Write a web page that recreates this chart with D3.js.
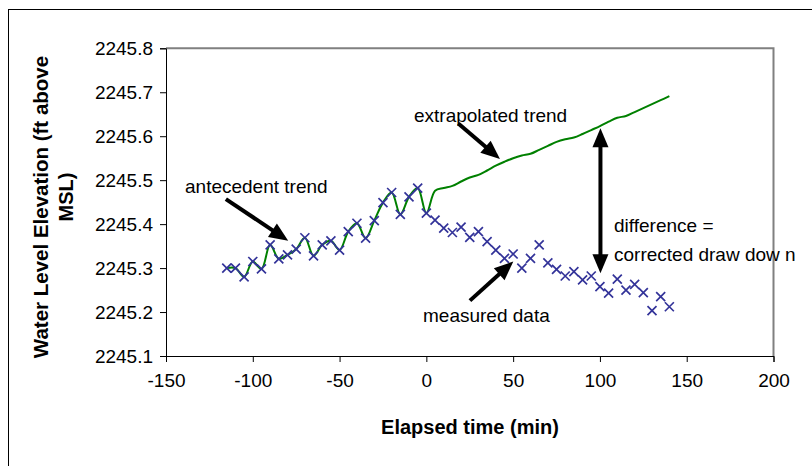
<!DOCTYPE html>
<html>
<head>
<meta charset="utf-8">
<script src="https://cdn.jsdelivr.net/npm/d3@7"></script>
<style>
  html, body { margin: 0; padding: 0; background: #ffffff; }
  svg { display: block; }
  text { font-family: "Liberation Sans", Arial, sans-serif; fill: #000; }
</style>
</head>
<body>
<svg id="chart" width="812" height="466"></svg>
<script>
// Elapsed time of each reading (min) and measured water level (ft above MSL)
const measuredTime = [-115, -110, -105, -100, -95, -90, -85, -80, -75, -70, -65, -60, -55, -50, -45, -40, -35, -30, -25, -20, -15, -10, -5, 0,
  5, 10, 15, 20, 25, 30, 35, 40, 45, 50, 55, 60, 65, 70, 75, 80, 85, 90, 95, 100, 105, 110, 115, 120, 125, 130, 135, 140];
const measuredLevel = [2245.300, 2245.300, 2245.280, 2245.315, 2245.298, 2245.353, 2245.321, 2245.330, 2245.343, 2245.369, 2245.328, 2245.353,
  2245.362, 2245.341, 2245.383, 2245.402, 2245.368, 2245.408, 2245.449, 2245.472, 2245.422, 2245.462, 2245.482, 2245.425,
  2245.409, 2245.391, 2245.381, 2245.393, 2245.370, 2245.383, 2245.360, 2245.341, 2245.322, 2245.332, 2245.300, 2245.322,
  2245.353, 2245.312, 2245.297, 2245.282, 2245.292, 2245.273, 2245.282, 2245.258, 2245.243, 2245.275, 2245.250, 2245.263,
  2245.244, 2245.203, 2245.235, 2245.212];

// Antecedent trend (through the pre-test readings) continued as the extrapolated trend
const trendTime = [-115, -110, -105, -100, -95, -90, -85, -80, -75, -70, -65, -60, -55, -50, -45, -40, -35, -30, -25, -20, -15, -10, -5, 0,
  5, 10, 15, 20, 25, 30, 35, 40, 45, 50, 55, 60, 65, 70, 75, 80, 85, 90, 95, 100, 105, 110, 115, 120, 125, 130, 135, 140];
const trendLevel = [2245.300, 2245.300, 2245.280, 2245.315, 2245.298, 2245.353, 2245.321, 2245.330, 2245.343, 2245.369, 2245.328, 2245.353,
  2245.362, 2245.341, 2245.383, 2245.402, 2245.368, 2245.408, 2245.449, 2245.472, 2245.422, 2245.462, 2245.482, 2245.425,
  2245.476, 2245.482, 2245.487, 2245.497, 2245.506, 2245.512, 2245.522, 2245.533, 2245.542, 2245.550, 2245.556, 2245.560,
  2245.569, 2245.578, 2245.587, 2245.593, 2245.597, 2245.605, 2245.614, 2245.623, 2245.633, 2245.642, 2245.646, 2245.655,
  2245.664, 2245.673, 2245.682, 2245.691];

// Axis ticks
const xTicks = [-150, -100, -50, 0, 50, 100, 150, 200];
const yTicks = [2245.1, 2245.2, 2245.3, 2245.4, 2245.5, 2245.6, 2245.7, 2245.8];

// Annotation arrows, [time, level] of tail and head(s)
const arrowNotes = [
  { from: [-115.5, 2245.457], to: [-79.6, 2245.362], both: false },
  { from: [18.4, 2245.629], to: [42.4, 2245.548], both: false },
  { from: [25.1, 2245.226], to: [50.1, 2245.315], both: false },
  { from: [100.3, 2245.618], to: [100.3, 2245.288], both: true }
];

const svg = d3.select("#chart");
const plotL = 166, plotR = 773.5, plotT = 48.3, plotB = 356;

const x = d3.scaleLinear().domain([-150, 200]).range([plotL, plotR]);
const y = d3.scaleLinear().domain([2245.1, 2245.8]).range([plotB, plotT]);

// Outer chart frame
svg.append("rect")
  .attr("x", 8.5).attr("y", 9.5).attr("width", 900).attr("height", 600)
  .attr("fill", "none").attr("stroke", "#000").attr("stroke-width", 1);

// Plot area border (top and right)
svg.append("path")
  .attr("d", `M${plotL},${plotT}H${plotR}V${plotB}`)
  .attr("fill", "none").attr("stroke", "#808080").attr("stroke-width", 2);

// Axes
const xAxis = svg.append("g").attr("transform", `translate(0,${plotB})`)
  .call(d3.axisBottom(x).tickValues(xTicks).tickSize(6).tickPadding(12).tickFormat(d3.format("d")));
const yAxis = svg.append("g").attr("transform", `translate(${plotL},0)`)
  .call(d3.axisLeft(y).tickValues(yTicks).tickSize(6).tickPadding(7).tickFormat(d3.format(".1f")));
[xAxis, yAxis].forEach(g => {
  g.select(".domain").attr("stroke", "#000").attr("stroke-width", 1);
  g.selectAll(".tick line").attr("stroke", "#000");
  g.selectAll(".tick text").attr("font-family", "Liberation Sans, Arial, sans-serif")
    .attr("font-size", 19).attr("fill", "#000");
});
xAxis.selectAll(".tick text").text(d => String(d));

// Trend line (smoothed)
const line = d3.line()
  .x((d, i) => x(trendTime[i]))
  .y(d => y(d))
  .curve(d3.curveCatmullRom.alpha(0.5));
svg.append("path")
  .datum(trendLevel)
  .attr("d", line)
  .attr("fill", "none").attr("stroke", "#008000").attr("stroke-width", 2);

// Measured readings as x markers
const m = 4.5;
svg.append("g").selectAll("path")
  .data(measuredLevel)
  .join("path")
  .attr("d", (d, i) => {
    const cx = x(measuredTime[i]), cy = y(d);
    return `M${cx - m},${cy - m}L${cx + m},${cy + m}M${cx - m},${cy + m}L${cx + m},${cy - m}`;
  })
  .attr("stroke", "#333399").attr("stroke-width", 1.7).attr("fill", "none");

// Arrows
function head(px, py, ux, uy) {
  const len = 19, half = 8;
  const bx = px - ux * len, by = py - uy * len;
  return `M${px},${py}L${bx - uy * half},${by + ux * half}L${bx + uy * half},${by - ux * half}Z`;
}
const ag = svg.append("g");
arrowNotes.forEach(a => {
  const x1 = x(a.from[0]), y1 = y(a.from[1]), x2 = x(a.to[0]), y2 = y(a.to[1]);
  const L = Math.hypot(x2 - x1, y2 - y1), ux = (x2 - x1) / L, uy = (y2 - y1) / L;
  const s1 = a.both ? 12 : 0;
  ag.append("line")
    .attr("x1", x1 + ux * s1).attr("y1", y1 + uy * s1)
    .attr("x2", x2 - ux * 12).attr("y2", y2 - uy * 12)
    .attr("stroke", "#000").attr("stroke-width", 4);
  ag.append("path").attr("d", head(x2, y2, ux, uy)).attr("fill", "#000");
  if (a.both) ag.append("path").attr("d", head(x1, y1, -ux, -uy)).attr("fill", "#000");
});

// Annotation labels
const notes = [
  { t: "antecedent trend", x: 185, y: 193 },
  { t: "extrapolated trend", x: 414, y: 122 },
  { t: "measured data", x: 423, y: 322 },
  { t: "difference =", x: 614, y: 232 },
  { t: "corrected draw dow n", x: 614, y: 261 }
];
svg.append("g").selectAll("text").data(notes).join("text")
  .attr("x", d => d.x).attr("y", d => d.y)
  .attr("font-size", 19)
  .text(d => d.t);

// Axis titles
svg.append("text")
  .attr("x", 470).attr("y", 434)
  .attr("text-anchor", "middle").attr("font-size", 20).attr("font-weight", "bold")
  .text("Elapsed time (min)");
svg.append("text")
  .attr("transform", "translate(48,207) rotate(-90)")
  .attr("text-anchor", "middle").attr("font-size", 20.5).attr("font-weight", "bold")
  .text("Water Level Elevation (ft above");
svg.append("text")
  .attr("transform", "translate(73,197) rotate(-90)")
  .attr("text-anchor", "middle").attr("font-size", 20).attr("font-weight", "bold")
  .text("MSL)");
</script>
</body>
</html>
